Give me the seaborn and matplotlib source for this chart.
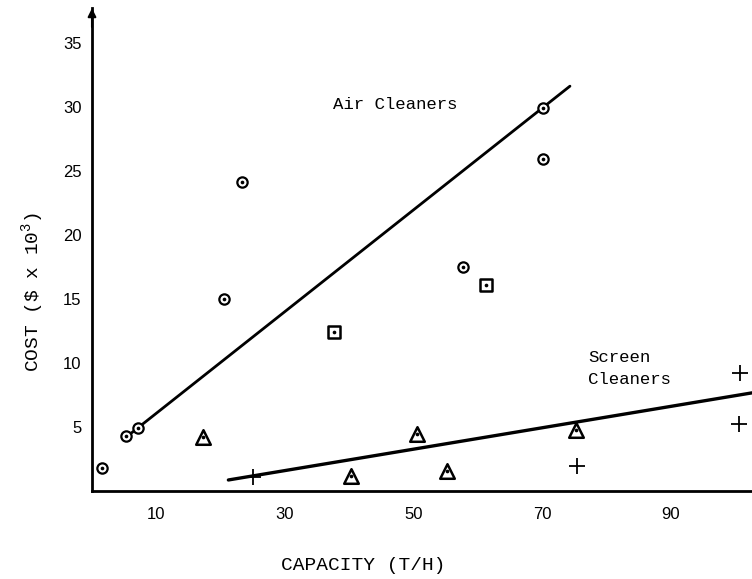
import matplotlib
matplotlib.use("Agg")
import matplotlib.pyplot as plt
import seaborn as sns
import pandas as pd

# Air cleaner observations
air_circle_x = [1.5, 5.3, 7.2, 20.5, 23.3, 57.7, 70.1, 70.1]
air_circle_y = [1.8, 4.3, 4.9, 15.0, 24.1, 17.5, 25.9, 29.9]
air_square_x = [37.6, 61.3]
air_square_y = [12.4, 16.1]

# Screen cleaner observations
screen_tri_x = [17.3, 40.3, 50.5, 55.2, 75.3]
screen_tri_y = [4.2, 1.2, 4.45, 1.6, 4.8]
screen_plus_x = [25.0, 75.4, 100.6, 100.8]
screen_plus_y = [1.1, 1.95, 5.2, 9.2]

# Fitted trend lines (end points)
air_fit_x = [5.3, 74.3]
air_fit_y = [4.2, 31.6]
screen_fit_x = [21.2, 102.6]
screen_fit_y = [0.86, 7.66]

x_ticks = [10, 20, 30, 40, 50, 60, 70, 80, 90, 100]
x_tick_labels = ["10", "", "30", "", "50", "", "70", "", "90", ""]
y_ticks = [5, 10, 15, 20, 25, 30, 35]

sns.set_style("white")
plt.rcParams["font.family"] = ["Liberation Mono", "DejaVu Sans"]
plt.rcParams["mathtext.default"] = "regular"

fig = plt.figure(figsize=(7.52, 5.79), dpi=100)
ax = fig.add_axes([92 / 752, 1 - 491 / 579, 660 / 752, 483 / 579])
ax.set_xlim(0, 102.6)
ax.set_ylim(0, 37.7)

circles = pd.DataFrame({"x": air_circle_x, "y": air_circle_y})
squares = pd.DataFrame({"x": air_square_x, "y": air_square_y})
tris = pd.DataFrame({"x": screen_tri_x, "y": screen_tri_y})
pluses = pd.DataFrame({"x": screen_plus_x, "y": screen_plus_y})

sns.lineplot(x=air_fit_x, y=air_fit_y, ax=ax, color="black", linewidth=2.0)
sns.lineplot(x=screen_fit_x, y=screen_fit_y, ax=ax, color="black", linewidth=2.4)

sns.scatterplot(data=circles, x="x", y="y", ax=ax, marker="o", s=55,
                facecolor="white", edgecolor="black", linewidth=1.6, zorder=3)
sns.scatterplot(data=squares, x="x", y="y", ax=ax, marker="s", s=80,
                facecolor="white", edgecolor="black", linewidth=1.8, zorder=3)
sns.scatterplot(data=tris, x="x", y="y", ax=ax, marker="^", s=110,
                facecolor="white", edgecolor="black", linewidth=1.8, zorder=3)
for df in (circles, squares, tris):
    sns.scatterplot(data=df, x="x", y="y", ax=ax, marker="o", s=7,
                    color="black", linewidth=0, zorder=4)
sns.scatterplot(data=pluses, x="x", y="y", ax=ax, marker="+", s=130,
                color="black", linewidth=1.3, zorder=3)

ax.text(37.5, 30.2, "Air Cleaners", fontsize=12.5, va="center", ha="left",
        color="black")
ax.text(77.1, 10.4, "Screen", fontsize=12.5, va="center", ha="left",
        color="black")
ax.text(77.1, 8.7, "Cleaners", fontsize=12.5, va="center", ha="left",
        color="black")

# axes styling: only left and bottom lines, ticks crossing the axes
for side in ("top", "right"):
    ax.spines[side].set_visible(False)
for side in ("left", "bottom"):
    ax.spines[side].set_linewidth(2.0)
    ax.spines[side].set_color("black")

ax.set_xticks(x_ticks)
ax.set_xticklabels(x_tick_labels)
ax.set_yticks(y_ticks)
ax.set_yticklabels([str(v) for v in y_ticks])
ax.tick_params(axis="both", direction="inout", length=9, width=1.5,
               color="black", labelsize=12, labelcolor="black")
ax.tick_params(axis="x", pad=7)
ax.tick_params(axis="y", pad=3)
for lbl in ax.get_xticklabels() + ax.get_yticklabels():
    lbl.set_family(["Liberation Sans", "DejaVu Sans"])

# arrow head at the top of the vertical axis
ax.annotate("", xy=(0, 37.9), xytext=(0, 36.0),
            arrowprops=dict(arrowstyle="-|>", color="black", lw=1.5,
                            mutation_scale=12),
            annotation_clip=False)

ax.set_xlabel("CAPACITY (T/H)", fontsize=14, color="black",
              va="center", ha="center")
ax.xaxis.set_label_coords((363 - 92) / 660, -(565 - 491) / 483)
ax.set_ylabel(r"COST (\$ x 10$^{3}$)", fontsize=14, color="black",
              va="center", ha="center")
ax.yaxis.set_label_coords((33 - 92) / 660, (491 - 292) / 483)

fig.savefig("out.png", dpi=100, facecolor="white")
